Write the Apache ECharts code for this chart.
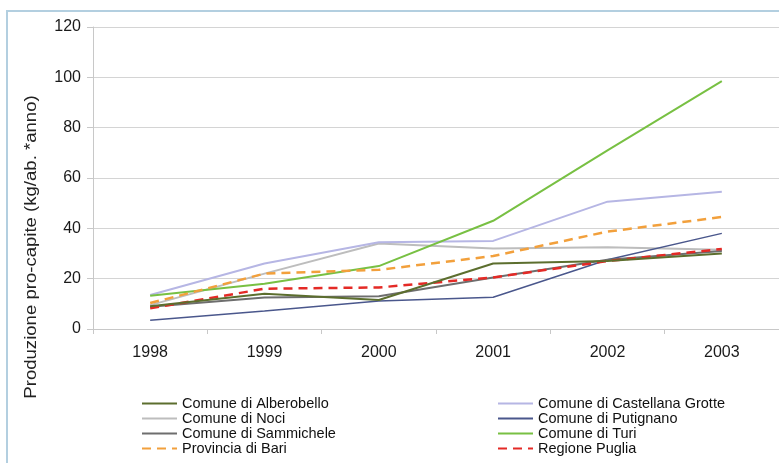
<!DOCTYPE html>
<html><head><meta charset="utf-8">
<script src="https://cdn.jsdelivr.net/npm/echarts@6/dist/echarts.min.js"></script>
<style>html,body{margin:0;padding:0;background:#fff}#c{width:779px;height:463px}</style>
</head><body><div id="c"></div>
<script>
const years = ['1998','1999','2000','2001','2002','2003'];
const alberobello = [9, 14, 11.5, 26, 27, 30];
const castellana = [13.5, 26, 34.5, 35, 50.6, 54.5];
const noci = [9.5, 22, 34, 32, 32.5, 31.5];
const putignano = [3.5, 7.2, 11.1, 12.6, 27.5, 38];
const sammichele = [8.8, 12.5, 13, 20.5, 27.5, 31];
const turi = [13.2, 18, 25, 43, 71, 98.5];
const provinciaBari = [10.3, 22, 23.5, 29, 38.7, 44.5];
const regionePuglia = [8.2, 16, 16.5, 20.5, 27, 31.8];
const yTicks = [0, 20, 40, 60, 80, 100, 120];

const font = 'Liberation Sans, Arial, sans-serif';
function mk(name, data, color, width, dash) {
  return {
    name, type: 'line', data, symbol: 'none', showSymbol: false,
    lineStyle: { color, width, type: dash ? [9, 6] : 'solid' },
    itemStyle: { color },
    emphasis: { disabled: true }
  };
}
const legendCommon = {
  orient: 'vertical', top: 391, height: 72, itemWidth: 35, itemHeight: 12, itemGap: 0,
  itemStyle: { opacity: 0 },
  textStyle: { fontFamily: font, fontSize: 14.5, color: '#111' },
  selectedMode: false
};
const chart = echarts.init(document.getElementById('c'), null, { renderer: 'canvas' });
chart.setOption({
  animation: false,
  backgroundColor: '#fff',
  grid: { left: 93, right: 0, top: 27, bottom: 134, containLabel: false },
  xAxis: {
    type: 'category', data: years, boundaryGap: true,
    axisLine: { lineStyle: { color: '#c8c8c8', width: 1 } },
    axisTick: { show: true, length: 5, lineStyle: { color: '#c8c8c8' } },
    axisLabel: { color: '#1a1a1a', fontFamily: font, fontSize: 16, margin: 16 }
  },
  yAxis: {
    type: 'value', min: yTicks[0], max: yTicks[yTicks.length - 1], interval: 20,
    axisLine: { show: true, lineStyle: { color: '#c8c8c8' } },
    axisTick: { show: true, length: 6, lineStyle: { color: '#c8c8c8' } },
    splitLine: { lineStyle: { color: '#d4d4d4', width: 1 } },
    axisLabel: { color: '#1a1a1a', fontFamily: font, fontSize: 16, margin: 12 }
  },
  legend: [
    Object.assign({}, legendCommon, { left: 136,
      data: ['Comune di Alberobello', 'Comune di Noci', 'Comune di Sammichele', 'Provincia di Bari'] }),
    Object.assign({}, legendCommon, { left: 492,
      data: ['Comune di Castellana Grotte', 'Comune di Putignano', 'Comune di Turi', 'Regione Puglia'] })
  ],
  graphic: [
    { type: 'rect', shape: { x: 7, y: 11, width: 900, height: 600 }, style: { fill: 'none', stroke: '#b3cfe0', lineWidth: 2 }, silent: true },
    { type: 'text', x: 32, y: 247, rotation: Math.PI / 2, scaleX: 1.16,
      style: { text: 'Produzione pro-capite (kg/ab. *anno)', font: '16px ' + font, fill: '#222', align: 'center', verticalAlign: 'middle' } }
  ],
  series: [
    mk('Comune di Noci', noci, '#bdbdbd', 2, false),
    mk('Comune di Castellana Grotte', castellana, '#b6b6e4', 2, false),
    mk('Comune di Turi', turi, '#78c043', 2, false),
    mk('Provincia di Bari', provinciaBari, '#f2a03c', 2.5, true),
    mk('Comune di Putignano', putignano, '#4a578c', 1.5, false),
    mk('Comune di Sammichele', sammichele, '#6e6e6e', 2, false),
    mk('Regione Puglia', regionePuglia, '#e42a26', 2.5, true),
    mk('Comune di Alberobello', alberobello, '#5c6e2e', 2, false)
  ]
});
</script></body></html>
